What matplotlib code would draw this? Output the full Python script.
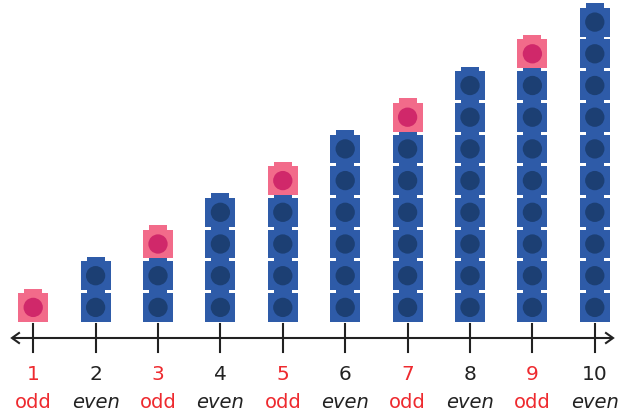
import matplotlib
matplotlib.use("Agg")
import matplotlib.pyplot as plt
from matplotlib.patches import Rectangle, Ellipse

numbers = [1, 2, 3, 4, 5, 6, 7, 8, 9, 10]
parity = ["odd", "even", "odd", "even", "odd", "even", "odd", "even", "odd", "even"]
cube_counts = [1, 2, 3, 4, 5, 6, 7, 8, 9, 10]

BLUE = "#2E5BA8"
BLUE_DOT = "#1C3F73"
PINK = "#F26B8A"
PINK_DOT = "#D0286A"
RED = "#EE2A2F"
BLACK = "#222222"

W, H = 623, 417
fig = plt.figure(figsize=(W / 100, H / 100), dpi=100)
ax = fig.add_axes([0, 0, 1, 1])

px_x = 62.4   # pixels per x unit
px_y = 31.7   # pixels per y unit (cube pitch)
x0_px, y0_px = 33.2, 321.8
ax.set_xlim(1 - x0_px / px_x, 1 + (W - x0_px) / px_x)
ax.set_ylim(-(H - y0_px) / px_y, y0_px / px_y)
ax.axis("off")

cube_w = 30 / px_x
body_h = 28.8 / px_y
knob_w = 18 / px_x
knob_h = 4.5 / px_y
dot_w = 19.3 / px_x
dot_h = 19.3 / px_y

for n, count in zip(numbers, cube_counts):
    pairs = (count // 2) * 2
    for i in range(count):
        face, dot = (BLUE, BLUE_DOT) if i < pairs else (PINK, PINK_DOT)
        ax.add_patch(Rectangle((n - knob_w / 2, i + body_h - 0.02), knob_w, knob_h + 0.02,
                               facecolor=face, edgecolor="none", zorder=2))
        ax.add_patch(Rectangle((n - cube_w / 2, i), cube_w, body_h,
                               facecolor=face, edgecolor="none", zorder=3))
        ax.add_patch(Ellipse((n, i + body_h / 2), dot_w, dot_h,
                             facecolor=dot, edgecolor="none", zorder=4))

# number line
axis_y = -(338 - y0_px) / px_y
left = 1 + (12 - x0_px) / px_x
right = 1 + (613 - x0_px) / px_x
ax.plot([left, right], [axis_y, axis_y], color=BLACK, lw=1.5, zorder=1, solid_capstyle="butt")
ah_dx = 7 / px_x
ah_dy = 5 / px_y
ax.plot([left + ah_dx, left, left + ah_dx], [axis_y + ah_dy, axis_y, axis_y - ah_dy],
        color=BLACK, lw=1.5, solid_joinstyle="miter")
ax.plot([right - ah_dx, right, right - ah_dx], [axis_y + ah_dy, axis_y, axis_y - ah_dy],
        color=BLACK, lw=1.5, solid_joinstyle="miter")

tick_top = -(324 - y0_px) / px_y
tick_bot = -(352 - y0_px) / px_y
num_y = -(375 - y0_px) / px_y
lab_y = -(402 - y0_px) / px_y
for n, p in zip(numbers, parity):
    ax.plot([n, n], [tick_top, tick_bot], color=BLACK, lw=1.5, zorder=1)
    col = RED if p == "odd" else BLACK
    ax.text(n, num_y, str(n), ha="center", va="center", fontsize=14.5, color=col,
            family="DejaVu Sans")
    ax.text(n, lab_y, p, ha="center", va="center", fontsize=14, color=col,
            family="DejaVu Sans", style="italic" if p == "even" else "normal")

fig.savefig("out.png", dpi=100)
